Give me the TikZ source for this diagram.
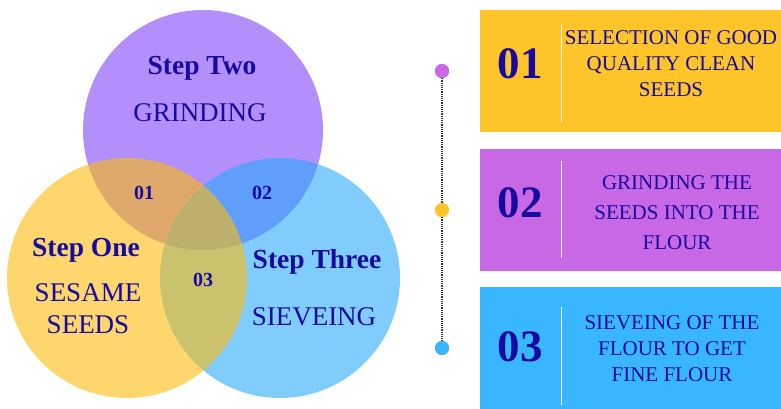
\documentclass[tikz,border=0pt]{standalone}
\usepackage{fontspec}
\setmainfont{Liberation Serif}
\definecolor{ink}{RGB}{24,10,160}
\definecolor{vpurple}{RGB}{127,68,248}
\definecolor{vyellow}{RGB}{252,188,13}
\definecolor{vblue}{RGB}{42,170,252}
\definecolor{byellow}{RGB}{253,197,42}
\definecolor{bpurple}{RGB}{200,104,228}
\definecolor{bblue}{RGB}{56,182,255}
\begin{document}
\begin{tikzpicture}[x=1pt,y=-1pt,
  venn/.style={circle, minimum size=240pt, inner sep=0pt, draw=none, fill opacity=0.6},
  head/.style={text=ink, font=\bfseries\fontsize{27.5}{30}\selectfont},
  sub/.style={text=ink, align=center, font=\fontsize{27}{32}\selectfont},
  num/.style={text=ink, font=\bfseries\fontsize{20}{24}\selectfont},
  bignum/.style={text=ink, font=\bfseries\fontsize{45}{50}\selectfont},
  boxtext/.style={text=ink, align=center, font=\fontsize{21}{26}\selectfont},
  panel/.style={anchor=north west, inner sep=0pt, minimum width=302pt},
  dot/.style={circle, inner sep=0pt, minimum size=14pt},
  sep/.style={white, line width=1pt}]
\useasboundingbox (0,0) rectangle (781,408);
% Venn circles
\node[venn, fill=vpurple] (two) at (203,130) {};
\node[venn, fill=vblue] (three) at (280,278) {};
\node[venn, fill=vyellow] (one) at (127,278) {};
% circle labels
\node[head] (h2) at (202,68) {Step Two};
\node[sub] (s2) at (200,113) {GRINDING};
\node[head] (h1) at (86,250) {Step One};
\node[sub] (s1) at (88,309) {SESAME\\SEEDS};
\node[head] (h3) at (317,262) {Step Three};
\node[sub] (s3) at (314,317) {SIEVEING};
\node[num] (n1) at (144,193) {01};
\node[num] (n2) at (262,193) {02};
\node[num] (n3) at (203,280) {03};
% timeline
\node[dot, fill=bpurple] (d1) at (442,71) {};
\node[dot, fill=byellow] (d2) at (442,210) {};
\node[dot, fill=bblue] (d3) at (442,348) {};
\draw[dash pattern=on 1.2pt off 1pt, line width=1.6pt, black!80] (d1) -- (d2) -- (d3);
\node[dot, fill=bpurple] at (d1) {};
\node[dot, fill=byellow] at (d2) {};
\node[dot, fill=bblue] at (d3) {};
% panels
\node[panel, fill=byellow, minimum height=122pt] (p1) at (480,10) {};
\node[panel, fill=bpurple, minimum height=122pt] (p2) at (480,149) {};
\node[panel, fill=bblue, minimum height=125pt] (p3) at (480,287) {};
\draw[sep] (561,24) -- (561,122);
\draw[sep] (561,161) -- (561,258);
\draw[sep] (561,307) -- (561,405);
\node[bignum] (b1) at (520,64) {01};
\node[bignum] (b2) at (520,203) {02};
\node[bignum] (b3) at (520,347) {03};
\node[boxtext] (t1) at (671,64) {SELECTION OF GOOD\\QUALITY CLEAN\\SEEDS};
\node[boxtext, font=\fontsize{21}{30}\selectfont] (t2) at (677,213) {GRINDING THE\\SEEDS INTO THE\\FLOUR};
\node[boxtext] (t3) at (672,349) {SIEVEING OF THE\\FLOUR TO GET\\FINE FLOUR};
\end{tikzpicture}
\end{document}
